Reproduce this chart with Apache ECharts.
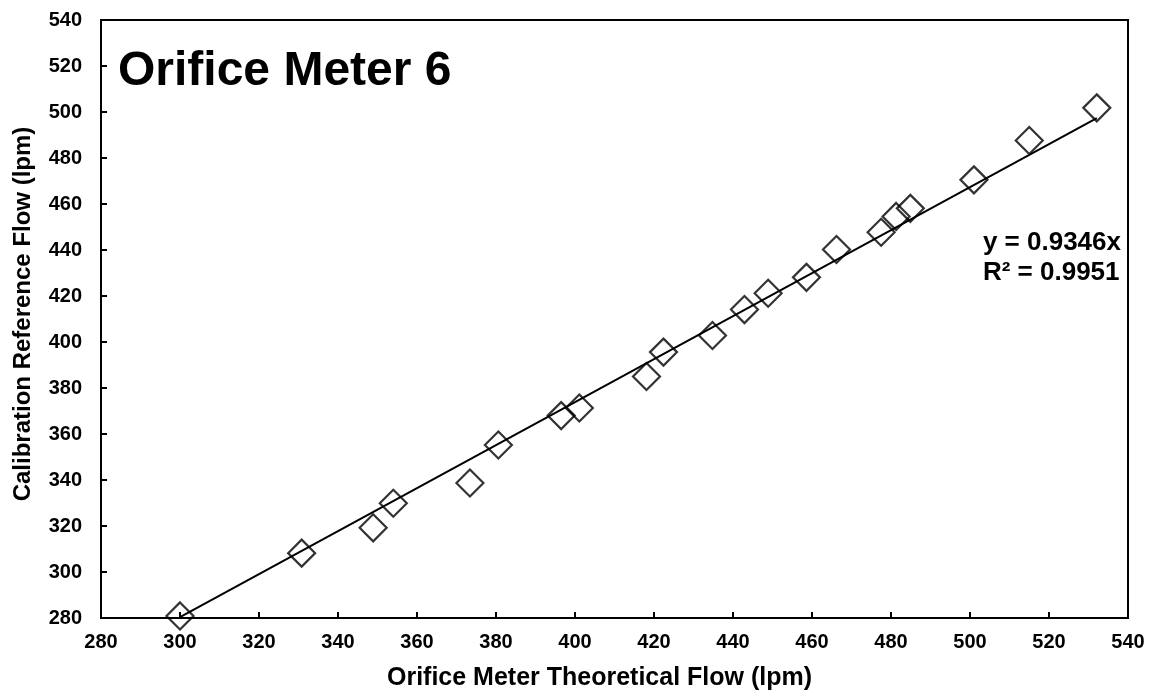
<!DOCTYPE html>
<html>
<head>
<meta charset="utf-8">
<script src="https://cdn.jsdelivr.net/npm/echarts@6/dist/echarts.min.js"></script>
<style>html,body{margin:0;padding:0;background:#fff;}#c{width:1154px;height:696px;}</style>
</head>
<body>
<div id="c"></div>
<script>
const theoreticalFlow = [300.0, 330.8, 348.9, 354.0, 373.4, 380.6, 396.5, 401.1, 418.1, 422.4, 434.8, 442.9, 448.9, 458.6, 466.2, 477.5, 481.3, 484.9, 501.0, 515.0, 532.1];
const referenceFlow   = [280.9, 308.2, 319.2, 329.9, 338.7, 355.2, 368.0, 371.3, 385.0, 395.6, 402.8, 414.1, 421.2, 428.1, 440.2, 447.7, 454.6, 458.1, 470.5, 487.6, 501.8];
const trendX = [300.0, 532.1];
const trendY = [280.4, 497.3];
const titleText = 'Orifice Meter 6';
const eqLines = ['y = 0.9346x', 'R² = 0.9951'];
const xName = 'Orifice Meter Theoretical Flow (lpm)';
const yName = 'Calibration Reference Flow (lpm)';

const chart = echarts.init(document.getElementById('c'));
const font = 'Arial, "Liberation Sans", sans-serif';
const axisCommon = {
  type: 'value', min: 280, max: 540, interval: 20,
  axisLine: { show: true, lineStyle: { color: '#000', width: 2 } },
  axisTick: { show: true, inside: true, length: 6, lineStyle: { color: '#000', width: 2 } },
  splitLine: { show: false },
  axisLabel: { color: '#000', fontSize: 20, fontWeight: 'bold', fontFamily: font },
  nameLocation: 'middle'
};
chart.setOption({
  animation: false,
  backgroundColor: '#fff',
  grid: { left: 101, right: 26, top: 20, bottom: 77, show: true, borderColor: '#000', borderWidth: 2 },
  xAxis: Object.assign({}, axisCommon, {
    name: xName, nameGap: 48,
    nameTextStyle: { color: '#000', fontSize: 25, fontWeight: 'bold', fontFamily: font, padding: [0, 30, 0, 0] },
    axisLabel: Object.assign({}, axisCommon.axisLabel, { margin: 14 })
  }),
  yAxis: Object.assign({}, axisCommon, {
    name: yName, nameGap: 66,
    nameTextStyle: { color: '#000', fontSize: 24, fontWeight: 'bold', fontFamily: font, padding: [0, 0, 0, 10] },
    axisLabel: Object.assign({}, axisCommon.axisLabel, { margin: 19 })
  }),
  series: [
    {
      type: 'line', data: trendX.map((x, i) => [x, trendY[i]]), symbol: 'none',
      lineStyle: { color: '#000', width: 2 }, z: 2
    },
    {
      type: 'scatter', data: theoreticalFlow.map((x, i) => [x, referenceFlow[i]]),
      symbol: 'diamond', symbolSize: 27,
      itemStyle: { color: 'rgba(0,0,0,0)', borderColor: '#000', borderWidth: 2.2 }, z: 3
    }
  ],
  graphic: [
    { type: 'text', left: 118, top: 48, style: { text: titleText, fill: '#000', font: 'bold 48px ' + font } },
    { type: 'text', right: 33, top: 228, style: { text: eqLines.join('\n'), fill: '#000', font: 'bold 26px ' + font, align: 'right', lineHeight: 30 } }
  ]
});
</script>
</body>
</html>
